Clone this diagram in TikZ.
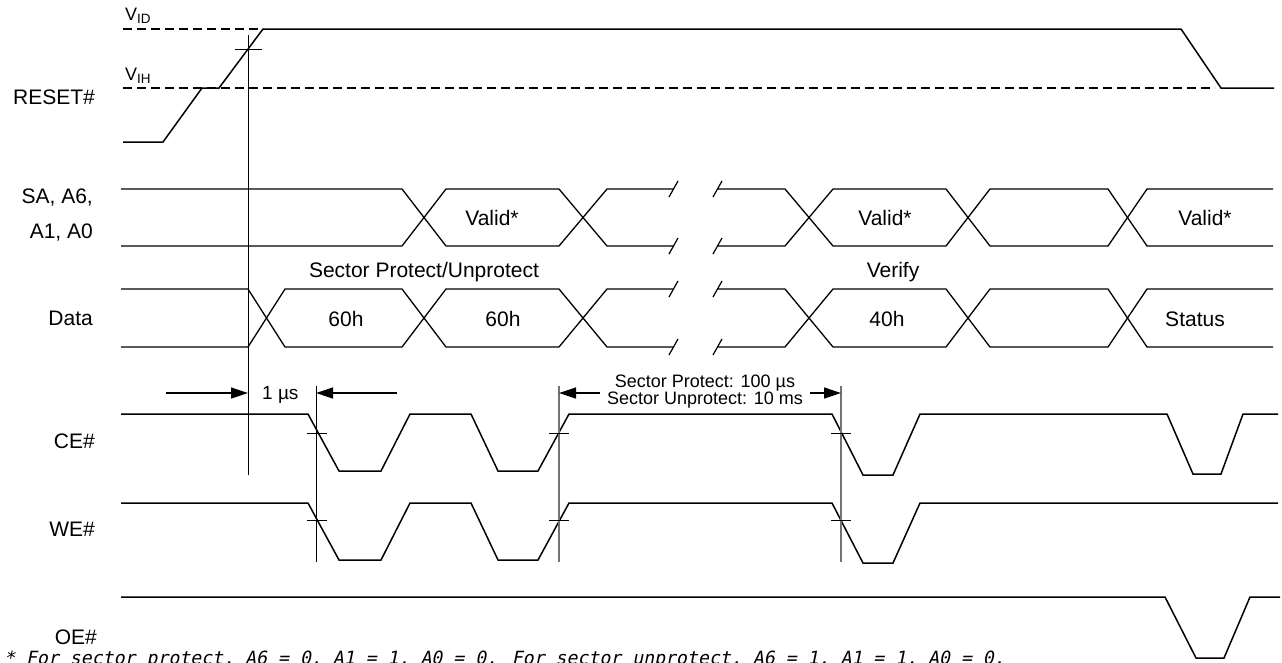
\documentclass[tikz,border=0pt]{standalone}
\usepackage{fontspec}
\setmainfont{Liberation Sans}
\newfontfamily\notefont[FakeSlant=0.2]{DejaVu Sans Mono}
\usetikzlibrary{arrows.meta}
\newcommand\vsub[1]{V\raisebox{-3.5pt}{\fontsize{13.5}{14}\selectfont #1}}
\begin{document}
\begin{tikzpicture}[x=1pt,y=-1pt,
  sig/.style={line width=1.5pt, line join=miter},
  bus/.style={line width=1.3pt},
  vref/.style={dash pattern=on 9pt off 5pt, line width=1.3pt},
  guide/.style={line width=0.9pt},
  gguide/.style={line width=1.3pt, draw=black!55},
  tickmark/.style={line width=0.8pt},
  brk/.style={line width=1.2pt},
  lab/.style={font=\fontsize{21}{25}\selectfont, anchor=base, inner sep=0pt},
  rlab/.style={font=\fontsize{21}{25}\selectfont, anchor=base east, inner sep=0pt},
  small/.style={font=\fontsize{18}{21}\selectfont, anchor=base, inner sep=0pt},
  vlab/.style={font=\fontsize{18}{20}\selectfont, anchor=base west, inner sep=0pt},
  dim/.style={line width=1.3pt, -{Triangle[length=17pt,width=11pt]}},
]
\useasboundingbox (0,0) rectangle (1282,662);

% ---------- signal labels ----------
\node[rlab] (lreset) at (95,104) {RESET\#};
\node[rlab] (lsa1) at (93,203) {SA, A6,};
\node[rlab] (lsa2) at (93,238) {A1, A0};
\node[rlab] (ldata) at (93,325) {Data};
\node[rlab] (lce) at (95,448) {CE\#};
\node[rlab] (lwe) at (95,536) {WE\#};
\node[rlab] (loe) at (97,644) {OE\#};

\node[vlab] (vid) at (125,20) {\vsub{ID}};
\node[vlab] (vih) at (125,80) {\vsub{IH}};

% ---------- RESET# ----------
\draw[vref] (123,29) -- (263,29);
\draw[vref] (123,88) -- (1215,88);
\draw[sig] (123,142) -- (163,142) -- (202,88) -- (219,88) -- (263,29) -- (1181,29) -- (1221,88) -- (1274,88);

% ---------- SA, A6, A1, A0 bus ----------
\draw[bus] (121,189) -- (402,189) -- (446,246) -- (559,246) -- (607,189) -- (673,189);
\draw[bus] (121,246) -- (402,246) -- (446,189) -- (559,189) -- (607,246) -- (673,246);
\draw[bus] (717,189) -- (785,189) -- (833,246) -- (946,246) -- (990,189) -- (1108,189) -- (1147,246) -- (1273,246);
\draw[bus] (717,246) -- (785,246) -- (833,189) -- (946,189) -- (990,246) -- (1108,246) -- (1147,189) -- (1273,189);
\foreach \yy in {189,246,289,347} {
  \draw[brk] (669,\yy+8) -- (678,\yy-8);
  \draw[brk] (713,\yy+8) -- (722,\yy-8);
}
\node[lab] (valid1) at (492,225) {Valid*};
\node[lab] (valid2) at (885,225) {Valid*};
\node[lab] (valid3) at (1205,225) {Valid*};

% ---------- Data bus ----------
\node[lab] (spu) at (424,277) {Sector Protect/Unprotect};
\node[lab] (verify) at (893,277) {Verify};
\draw[bus] (121,289) -- (248,289) -- (285,347) -- (402,347) -- (446,289) -- (559,289) -- (607,347) -- (673,347);
\draw[bus] (121,347) -- (248,347) -- (285,289) -- (402,289) -- (446,347) -- (559,347) -- (607,289) -- (673,289);
\draw[bus] (717,289) -- (785,289) -- (833,347) -- (946,347) -- (990,289) -- (1108,289) -- (1147,347) -- (1273,347);
\draw[bus] (717,347) -- (785,347) -- (833,289) -- (946,289) -- (990,347) -- (1108,347) -- (1147,289) -- (1273,289);
\node[lab] (d60a) at (346,326) {60h};
\node[lab] (d60b) at (503,326) {60h};
\node[lab] (d40) at (887,326) {40h};
\node[lab] (dstat) at (1195,326) {Status};

% ---------- CE#, WE#, OE# ----------
\draw[sig] (121,414) -- (308,414) -- (339,471) -- (381,471) -- (410,414) -- (471,414) -- (498,471) -- (538,471) -- (569,414) -- (832,414) -- (863,475) -- (893,475) -- (920,414) -- (1167,414) -- (1193,474) -- (1221,474) -- (1243,414) -- (1278,414);
\draw[sig] (121,503) -- (308,503) -- (339,560) -- (381,560) -- (410,503) -- (471,503) -- (498,560) -- (538,560) -- (569,503) -- (832,503) -- (863,563) -- (893,563) -- (920,503) -- (1278,503);
\draw[sig] (121,597) -- (1165,597) -- (1196,658) -- (1224,658) -- (1250,597) -- (1280,597);

% ---------- reference verticals and ticks ----------
\coordinate (v0t) at (248,35);  \coordinate (v0b) at (248,475);
\coordinate (v1t) at (316,386); \coordinate (v1b) at (316,562);
\coordinate (v2t) at (559,386); \coordinate (v2b) at (559,562);
\coordinate (v3t) at (841,386); \coordinate (v3b) at (841,562);
\draw[guide] (v0t) -- (v0b);
\draw[guide] (v1t) -- (v1b);
\draw[gguide] (v2t) -- (v2b);
\draw[gguide] (v3t) -- (v3b);
\draw[tickmark] (235,49) -- (262,49);
\foreach \xx in {317,559,841} {
  \draw[tickmark] (\xx-10,433) -- (\xx+10,433);
  \draw[tickmark] (\xx-10,520) -- (\xx+10,520);
}

% ---------- timing annotations ----------
\coordinate (a1s) at (166,393); \coordinate (a1e) at (248,393);
\coordinate (a2s) at (397,393); \coordinate (a2e) at (316,393);
\coordinate (a3s) at (600,393); \coordinate (a3e) at (559,393);
\coordinate (a4s) at (810,393); \coordinate (a4e) at (841,393);
\draw[dim] (a1s) -- (a1e);
\draw[dim] (a2s) -- (a2e);
\draw[dim] (a3s) -- (a3e);
\draw[dim] (a4s) -- (a4e);
\node[anchor=base west, inner sep=0pt, font=\fontsize{19}{22}\selectfont] (t1us) at (262,399) {1 µs};
\node[small] (tsp) at (705,387) {Sector Protect: 100 µs};
\node[small] (tsu) at (705,404) {Sector Unprotect: 10 ms};

% ---------- footnote ----------
\node[anchor=base west, inner sep=0pt, font=\notefont\fontsize{18.2}{20}\selectfont] (note) at (4,664)
  {* For sector protect, A6 = 0, A1 = 1, A0 = 0. For sector unprotect, A6 = 1, A1 = 1, A0 = 0.};
\end{tikzpicture}
\end{document}
